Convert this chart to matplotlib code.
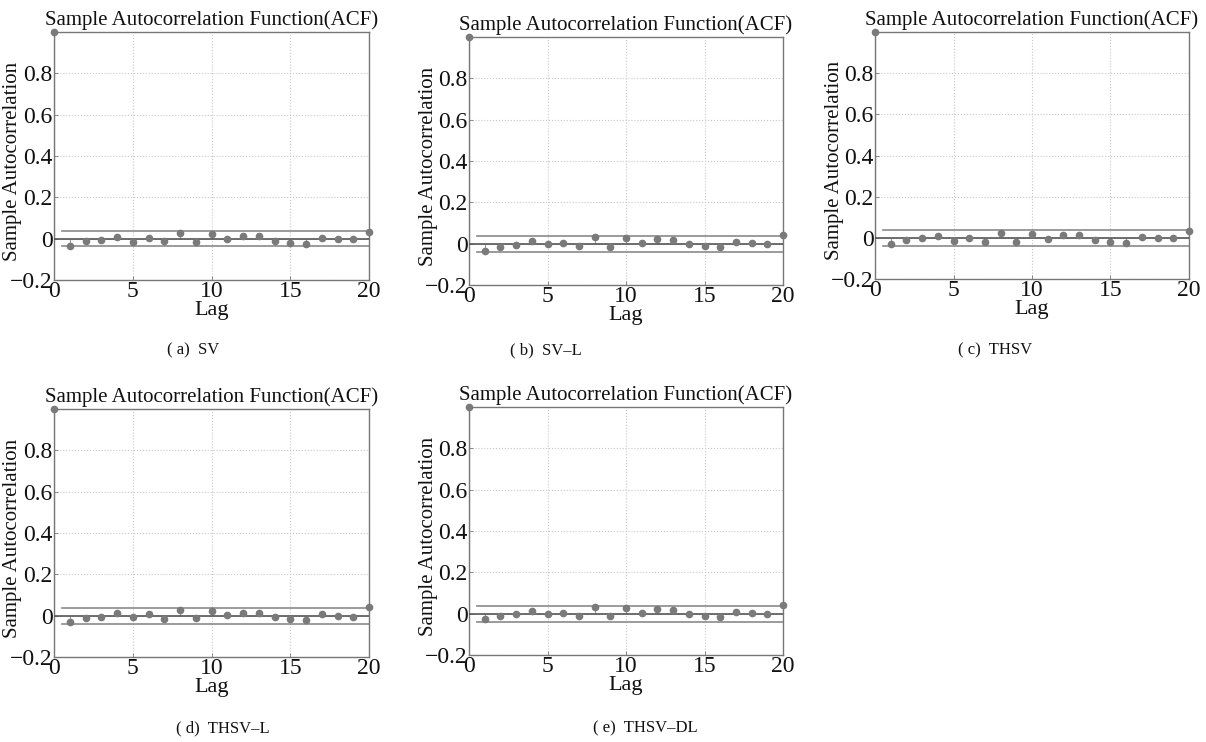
import numpy as np
import matplotlib
matplotlib.use("Agg")
import matplotlib.pyplot as plt

plt.rcParams["font.family"] = ["Liberation Serif", "DejaVu Serif"]

# Sample ACF values, lags 0..20, for each model
lags = list(range(0, 21))
acf_sv = [1.0, -0.037, -0.010, -0.005, 0.006, -0.018, 0.003, -0.013, 0.029, -0.018, 0.024,
          0.000, 0.013, 0.015, -0.010, -0.019, -0.026, 0.005, -0.002, 0.000, 0.034]
acf_sv_l = [1.0, -0.037, -0.015, -0.008, 0.011, -0.002, 0.005, -0.013, 0.034, -0.018, 0.027,
            0.003, 0.021, 0.016, -0.003, -0.011, -0.018, 0.010, 0.002, 0.000, 0.040]
acf_thsv = [1.0, -0.031, -0.010, -0.003, 0.011, -0.013, 0.000, -0.018, 0.024, -0.018, 0.019,
            -0.006, 0.015, 0.013, -0.010, -0.019, -0.027, 0.006, -0.002, 0.000, 0.034]
acf_thsv_l = [1.0, -0.031, -0.011, -0.005, 0.015, -0.005, 0.006, -0.016, 0.027, -0.013, 0.024,
              0.005, 0.015, 0.013, -0.006, -0.015, -0.019, 0.010, 0.000, -0.005, 0.042]
acf_thsv_dl = [1.0, -0.027, -0.010, -0.003, 0.015, 0.000, 0.003, -0.013, 0.034, -0.013, 0.026,
               0.005, 0.021, 0.016, -0.003, -0.011, -0.016, 0.008, 0.003, -0.003, 0.042]
bounds = [0.037, 0.038, 0.039, 0.038, 0.039]

captions = ["( a)  SV", "( b)  SV\u2013L", "( c)  THSV", "( d)  THSV\u2013L", "( e)  THSV\u2013DL"]
series = [acf_sv, acf_sv_l, acf_thsv, acf_thsv_l, acf_thsv_dl]

yticks = [-0.2, 0, 0.2, 0.4, 0.6, 0.8]
ytick_labels = ["\u22120.2", "0", "0.2", "0.4", "0.6", "0.8"]
xticks = [0, 5, 10, 15, 20]

W, H = 1206, 742
# axes boxes in pixels: left, top, right, bottom
boxes = [(54, 32, 369, 280), (469, 37, 783, 285), (875, 32, 1189, 279),
         (54, 409, 369, 657), (469, 407, 783, 655)]
cap_pos = [(167, 350), (510, 350), (958, 350), (176, 728), (593, 728)]

fig = plt.figure(figsize=(W / 100, H / 100), dpi=100)

marker_col = "#7a7a7a"
for vals, bnd, (l, t, r, b), cap, (cx, cy) in zip(series, bounds, boxes, captions, cap_pos):
    ax = fig.add_axes([l / W, 1 - b / H, (r - l) / W, (b - t) / H])
    ml, sl, bl = ax.stem(lags, vals, basefmt=" ")
    plt.setp(ml, color=marker_col, markersize=4.5, clip_on=False, zorder=4)
    plt.setp(sl, color="#9a9a9a", linewidth=0.8)
    ax.plot([0.5, 20], [bnd, bnd], color="#8a8a8a", lw=1.2)
    ax.plot([0.5, 20], [-bnd, -bnd], color="#8a8a8a", lw=1.2)
    ax.axhline(0, color="#555555", lw=1.2, zorder=3)

    ax.set_xlim(0, 20)
    ax.set_ylim(-0.2, 1.0)
    ax.set_xticks(xticks)
    ax.set_yticks(yticks)
    ax.set_yticklabels(ytick_labels)
    ax.tick_params(direction="in", length=3, width=0.6, colors="#777777",
                   labelcolor="#111111", labelsize=17, pad=1)
    ax.grid(True, linestyle=":", color="#c8c8c8", linewidth=0.8)
    for sp in ax.spines.values():
        sp.set_color("#777777")
        sp.set_linewidth(1.0)

    ax.set_title("Sample Autocorrelation Function(ACF)", fontsize=15, pad=5, color="#111111")
    ax.set_xlabel("Lag", fontsize=16, color="#111111")
    ax.set_ylabel("Sample Autocorrelation", fontsize=15, color="#111111")
    ax.xaxis.set_label_coords(0.5, -0.085)
    ax.yaxis.set_label_coords(-0.1, 0.48)

    fig.text(cx / W, 1 - cy / H, cap, fontsize=12, ha="left", va="center", color="#111111")

plt.savefig("out.png", dpi=100)
